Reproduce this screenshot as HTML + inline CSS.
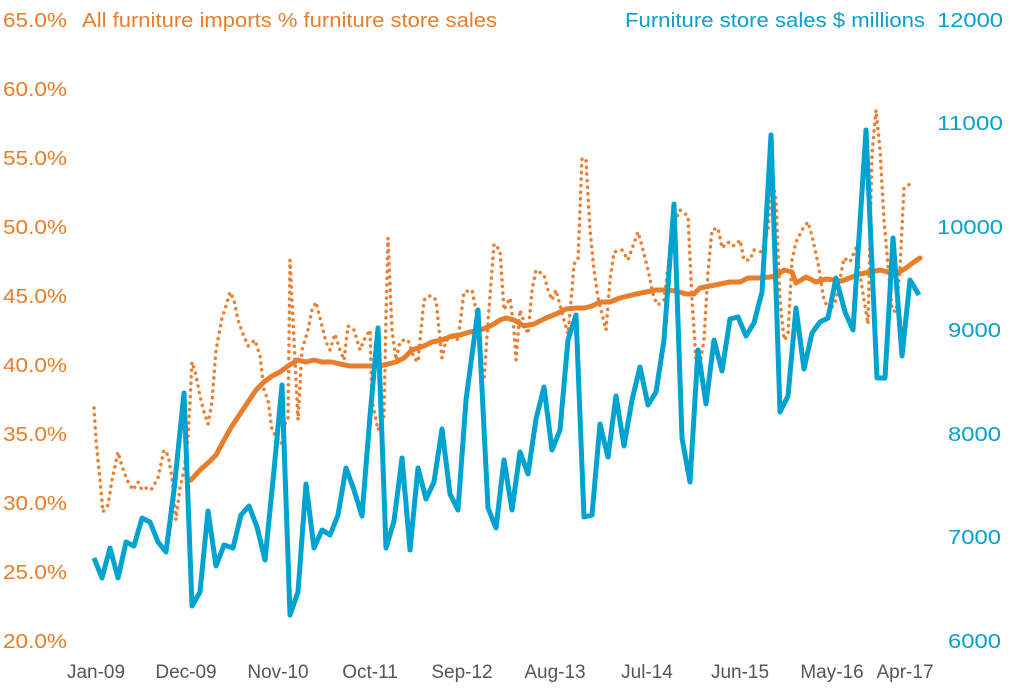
<!DOCTYPE html>
<html><head><meta charset="utf-8"><style>
body{margin:0;background:#fff}
svg{display:block;font-family:"Liberation Sans",sans-serif}
</style></head><body>
<svg width="1011" height="692" viewBox="0 0 1011 692">
<g fill="#e87d2b" font-size="20" text-anchor="end">
<text x="67" y="27" textLength="64" lengthAdjust="spacingAndGlyphs">65.0%</text>
<text x="67" y="96" textLength="64" lengthAdjust="spacingAndGlyphs">60.0%</text>
<text x="67" y="165" textLength="64" lengthAdjust="spacingAndGlyphs">55.0%</text>
<text x="67" y="234" textLength="64" lengthAdjust="spacingAndGlyphs">50.0%</text>
<text x="67" y="303" textLength="64" lengthAdjust="spacingAndGlyphs">45.0%</text>
<text x="67" y="372" textLength="64" lengthAdjust="spacingAndGlyphs">40.0%</text>
<text x="67" y="441" textLength="64" lengthAdjust="spacingAndGlyphs">35.0%</text>
<text x="67" y="510" textLength="64" lengthAdjust="spacingAndGlyphs">30.0%</text>
<text x="67" y="579" textLength="64" lengthAdjust="spacingAndGlyphs">25.0%</text>
<text x="67" y="648" textLength="64" lengthAdjust="spacingAndGlyphs">20.0%</text>
<text x="82" y="27" text-anchor="start" textLength="415" lengthAdjust="spacingAndGlyphs">All furniture imports % furniture store sales</text>
</g>
<g fill="#0aa0cd" font-size="20">
<text x="937" y="27" textLength="66" lengthAdjust="spacingAndGlyphs">12000</text>
<text x="937" y="130" textLength="66" lengthAdjust="spacingAndGlyphs">11000</text>
<text x="937" y="234" textLength="66" lengthAdjust="spacingAndGlyphs">10000</text>
<text x="948" y="337" textLength="53" lengthAdjust="spacingAndGlyphs">9000</text>
<text x="948" y="441" textLength="53" lengthAdjust="spacingAndGlyphs">8000</text>
<text x="948" y="544" textLength="53" lengthAdjust="spacingAndGlyphs">7000</text>
<text x="948" y="648" textLength="53" lengthAdjust="spacingAndGlyphs">6000</text>
<text x="625" y="27" textLength="300" lengthAdjust="spacingAndGlyphs">Furniture store sales  $ millions</text>
</g>
<g fill="#555" font-size="19" text-anchor="middle">
<text x="96" y="678">Jan-09</text><text x="186" y="678">Dec-09</text><text x="278" y="678">Nov-10</text>
<text x="370" y="678">Oct-11</text><text x="462" y="678">Sep-12</text><text x="555" y="678">Aug-13</text>
<text x="647" y="678">Jul-14</text><text x="740" y="678">Jun-15</text><text x="832" y="678">May-16</text>
<text x="905" y="678">Apr-17</text>
</g>
<polyline fill="none" stroke="#ed7d31" stroke-width="3.5" stroke-dasharray="0.1 6.5" stroke-linecap="round" stroke-linejoin="round" points="94,408 96,440 100,480 103,512 108,505 112,480 118,452 122,466 127,480 133,490 138,482 142,490 146,488 151,490 158,478 164,450 168,455 172,478 176,520 180,488 184,470 188,440 192,362 196,375 200,396 204,412 208,424 212,402 216,350 222,318 226,306 230,292 234,300 238,320 243,334 248,346 255,340 260,356 264,390 268,400 272,430 281,444 286,420 288,418 290,260 293,320 298,420 302,350 308,330 312,310 316,302 322,326 326,342 330,350 335,334 340,350 344,360 348,326 354,330 360,350 364,340 370,330 372,400 378,430 384,416 386,318 388,238 392,330 396,360 400,342 404,340 408,340 414,358 418,362 420,340 424,300 428,296 432,296 436,300 442,358 446,340 450,340 454,336 458,340 464,292 472,290 476,310 480,360 484,380 488,322 494,244 500,250 504,310 510,298 514,330 516,360 520,310 524,322 528,334 532,290 536,270 544,275 548,290 552,300 556,290 560,305 564,320 568,334 572,290 574,264 578,260 582,158 586,160 590,230 594,270 598,298 602,314 606,330 610,280 614,252 622,250 628,260 638,232 642,246 648,270 654,298 658,305 664,300 668,268 672,228 680,210 688,216 692,300 696,360 700,364 704,340 708,272 712,230 718,228 722,248 728,242 732,246 736,245 740,240 744,260 750,260 754,250 762,252 768,230 772,180 776,200 780,300 784,340 788,335 792,260 796,242 802,230 808,222 812,236 818,263 824,300 830,311 836,300 844,258 850,262 856,248 864,300 868,324 872,154 876,110 880,150 884,220 888,266 892,310 896,312 900,268 904,188 910,184 914,186"/>
<polyline fill="none" stroke="#e87d2b" stroke-width="5" stroke-linejoin="round" stroke-linecap="round" points="191,480 200,470 208,463 216,455 224,440 232,426 240,414 248,402 256,390 264,382 272,376 280,372 288,366 298,360 306,362 314,360 322,362 332,362 340,364 350,366 360,366 370,366 380,366 388,364 396,362 404,358 412,350 424,346 432,342 442,340 452,336 460,335 470,332 480,330 488,327 494,324 500,320 506,318 514,320 524,326 534,324 546,318 556,314 566,309 576,308 584,308 592,306 600,302 610,302 620,298 628,296 636,294 646,292 656,290 666,290 676,291 686,294 694,294 700,288 710,286 720,284 730,282 740,282 748,278 760,278 770,277 776,276 784,270 792,272 796,283 806,277 816,282 826,279 834,280 842,281 852,277 860,274 870,272 880,270 888,272 896,274 906,268 914,262 920,258"/>
<polyline fill="none" stroke="#00a2d0" stroke-width="5" stroke-linejoin="round" points="94,558 102,578 110,548 118,578 126,542 134,546 142,518 150,522 158,542 166,552 174,490 184,393 192,606 200,592 208,511 216,566 224,545 233,548 241,515 249,506 257,527 265,560 274,470 282,385 290,615 298,592 306,484 314,548 322,530 330,535 338,515 346,468 354,490 362,516 370,416 378,328 386,548 394,521 402,458 410,550 418,468 426,499 434,482 442,429 450,494 458,510 466,400 478,310 488,508 496,528 504,460 512,510 520,452 528,474 536,419 544,387 552,450 560,430 568,340 576,315 584,517 592,515 600,424 608,457 616,396 624,446 632,400 640,367 648,405 656,392 664,340 674,204 682,438 690,482 698,350 706,404 714,340 722,371 730,319 738,317 746,336 754,323 762,292 771,135 780,412 788,396 796,308 804,369 812,333 820,322 828,318 836,278 845,312 853,330 866,130 877,378 885,378 893,238 902,356 910,280 919,295"/>
</svg>
</body></html>
